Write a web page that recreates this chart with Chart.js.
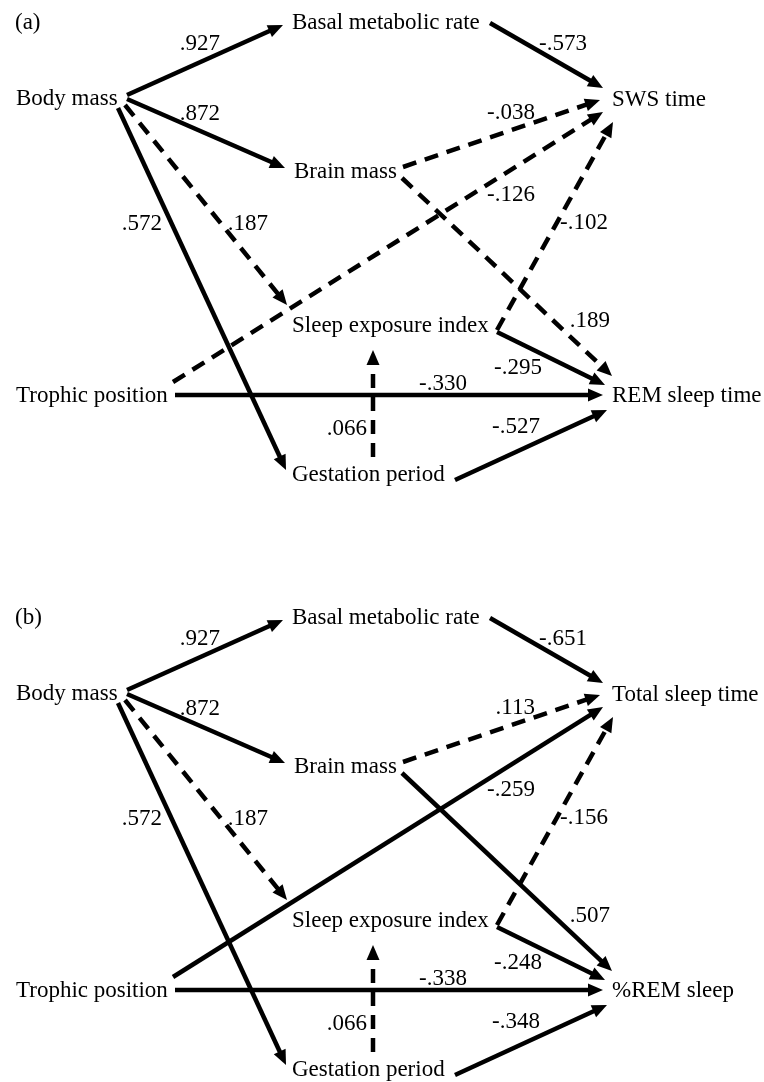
<!DOCTYPE html>
<html>
<head>
<meta charset="utf-8">
<script src="https://cdn.jsdelivr.net/npm/chart.js@4.4.1/dist/chart.umd.min.js"></script>
<style>
  body { margin: 0; background: #fff; }
  #wrap { width: 764px; height: 1082px; }
</style>
</head>
<body>
<div id="wrap"><canvas id="pathChart" width="764" height="1082"></canvas></div>
<script>
// ---- data ----
var panelTags = ["(a)", "(b)"];
var predictors = ["Body mass", "Basal metabolic rate", "Brain mass", "Sleep exposure index", "Trophic position", "Gestation period"];
var outcomesA = ["SWS time", "REM sleep time"];
var outcomesB = ["Total sleep time", "%REM sleep"];

// path i goes from node pathFrom[i] to node pathTo[i] (6,7 = the two outcomes)
var pathFrom = [0, 0, 0, 0, 1, 2, 2, 4, 3, 3, 4, 5, 5];
var pathTo   = [1, 2, 5, 3, 6, 6, 7, 6, 6, 7, 7, 7, 3];

var coefA = [0.927, 0.872, 0.572, 0.187, -0.573, -0.038, 0.189, -0.126, -0.102, -0.295, -0.330, -0.527, 0.066];
var coefB = [0.927, 0.872, 0.572, 0.187, -0.651, 0.113, 0.507, -0.259, -0.156, -0.248, -0.338, -0.348, 0.066];
// 1 = significant (solid arrow), 0 = not significant (dashed)
var signifA = [1, 1, 1, 0, 1, 0, 0, 0, 0, 1, 1, 1, 0];
var signifB = [1, 1, 1, 0, 1, 0, 1, 1, 0, 1, 1, 1, 0];

// ---- layout (diagram units = pixels of one panel) ----
var panelTop = [0, 595];
var tagPos = [15, 29];
var nodePos = [[16, 105], [292, 29], [294, 178], [292, 332], [16, 402], [292, 481], [612, 106], [612, 402]];
var pathStart = [[127, 95], [127, 99], [118, 108], [125, 105], [490, 23], [403, 167], [402, 178], [173, 382], [497, 330], [497, 332], [175, 395], [455, 480], [373, 457]];
var pathTip   = [[283, 25], [285, 168], [286, 470], [287, 305], [603, 88], [600, 100], [612, 376], [603, 112], [613, 122], [605, 385], [603, 395], [607, 410], [373, 350]];
var coefPos   = [[220, 50], [220, 120], [162, 230], [268, 230], [587, 50], [535, 119], [610, 327], [535, 201], [608, 229], [542, 374], [467, 390], [540, 433], [367, 435]];

var headLen = 15, headHalf = 6.5;
var font = '23px "Liberation Serif", "Times New Roman", serif';

function fmt(v) {
  return v.toFixed(3).replace("0.", ".");
}

var panels = [
  { tag: panelTags[0], names: predictors.concat(outcomesA), coef: coefA, signif: signifA, top: panelTop[0] },
  { tag: panelTags[1], names: predictors.concat(outcomesB), coef: coefB, signif: signifB, top: panelTop[1] }
];

var datasets = [];
panels.forEach(function(p) {
  for (var i = 0; i < pathFrom.length; i++) {
    var s = pathStart[i], t = pathTip[i];
    var dx = t[0] - s[0], dy = t[1] - s[1];
    var len = Math.sqrt(dx * dx + dy * dy);
    // line stops at the base of the arrowhead
    var ex = t[0] - dx / len * (headLen - 2), ey = t[1] - dy / len * (headLen - 2);
    datasets.push({
      label: p.names[pathFrom[i]] + " -> " + p.names[pathTo[i]],
      data: [{ x: s[0], y: s[1] + p.top }, { x: ex, y: ey + p.top }],
      tip: { x: t[0], y: t[1] + p.top },
      showLine: true,
      borderColor: '#000',
      borderWidth: 4.5,
      borderCapStyle: 'butt',
      borderDash: p.signif[i] ? [] : [14, 9],
      pointRadius: 0,
      pointHoverRadius: 0,
      tension: 0
    });
  }
});

var diagramPlugin = {
  id: 'diagram',
  afterDatasetsDraw: function(chart) {
    var ctx = chart.ctx, xs = chart.scales.x, ys = chart.scales.y;
    ctx.save();
    ctx.fillStyle = '#000';
    // arrowheads
    chart.data.datasets.forEach(function(ds) {
      var bx = xs.getPixelForValue(ds.data[0].x), by = ys.getPixelForValue(ds.data[0].y);
      var tx = xs.getPixelForValue(ds.tip.x), ty = ys.getPixelForValue(ds.tip.y);
      var ang = Math.atan2(ty - by, tx - bx);
      ctx.beginPath();
      ctx.moveTo(tx, ty);
      ctx.lineTo(tx - headLen * Math.cos(ang) + headHalf * Math.sin(ang), ty - headLen * Math.sin(ang) - headHalf * Math.cos(ang));
      ctx.lineTo(tx - headLen * Math.cos(ang) - headHalf * Math.sin(ang), ty - headLen * Math.sin(ang) + headHalf * Math.cos(ang));
      ctx.closePath();
      ctx.fill();
    });
    // texts
    ctx.font = font;
    ctx.textBaseline = 'alphabetic';
    panels.forEach(function(p) {
      ctx.textAlign = 'left';
      ctx.fillText(p.tag, xs.getPixelForValue(tagPos[0]), ys.getPixelForValue(tagPos[1] + p.top));
      p.names.forEach(function(n, k) {
        ctx.fillText(n, xs.getPixelForValue(nodePos[k][0]), ys.getPixelForValue(nodePos[k][1] + p.top));
      });
      ctx.textAlign = 'right';
      p.coef.forEach(function(c, i) {
        ctx.fillText(fmt(c), xs.getPixelForValue(coefPos[i][0]), ys.getPixelForValue(coefPos[i][1] + p.top));
      });
    });
    ctx.restore();
  }
};

var chart = new Chart(document.getElementById('pathChart').getContext('2d'), {
  type: 'scatter',
  data: { datasets: datasets },
  options: {
    responsive: false,
    animation: false,
    layout: { padding: 0 },
    plugins: { legend: { display: false }, tooltip: { enabled: false } },
    events: [],
    scales: {
      x: { type: 'linear', min: 0, max: 764, display: false },
      y: { type: 'linear', min: 0, max: 1082, reverse: true, display: false }
    }
  },
  plugins: [diagramPlugin]
});
</script>
</body>
</html>
